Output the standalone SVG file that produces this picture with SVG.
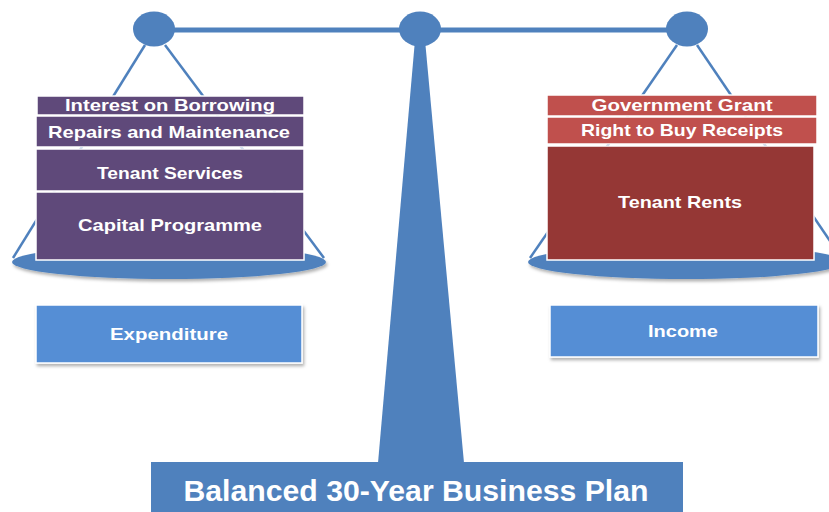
<svg xmlns="http://www.w3.org/2000/svg" width="829" height="512" viewBox="0 0 829 512">
<style>
.blue{fill:#4F81BD}
.str{stroke:#4F81BD;stroke-width:2.5;fill:none}
.pur{fill:#5F497A;stroke:#fff;stroke-width:1.5}
.red{fill:#C0504D;stroke:#fff;stroke-width:1.5}
.dred{fill:#953735;stroke:#fff;stroke-width:1.5}
.lbl{fill:#558ED5;stroke:#fff;stroke-width:1.5}
.t{font-family:"Liberation Sans",Arial,sans-serif;font-weight:bold;fill:#fff;text-anchor:middle}
</style>
<defs>
<filter id="sh" x="-10%" y="-30%" width="120%" height="180%">
<feDropShadow dx="1.5" dy="2.5" stdDeviation="1.5" flood-color="#000" flood-opacity="0.3"/>
</filter>
</defs>
<rect width="829" height="512" fill="#fff"/>
<g id="connectors">
<line class="str" x1="145" y1="45" x2="13" y2="258"/>
<line class="str" x1="165" y1="45" x2="324" y2="258"/>
<line class="str" x1="677" y1="45" x2="530" y2="258"/>
<line class="str" x1="697" y1="45" x2="845" y2="263"/>
</g>
<g id="scale">
<line x1="154" y1="30" x2="687" y2="30" stroke="#4F81BD" stroke-width="5"/>
<polygon class="blue" points="415,40 425,40 464,463 378,463"/>
<ellipse class="blue" cx="154" cy="29" rx="21" ry="17.5"/>
<ellipse class="blue" cx="420" cy="29" rx="21" ry="17.5"/>
<ellipse class="blue" cx="687" cy="29" rx="21" ry="17.5"/>
<ellipse class="blue" cx="169" cy="262" rx="157" ry="17" filter="url(#sh)"/>
<ellipse class="blue" cx="686" cy="262" rx="158" ry="17" filter="url(#sh)"/>
</g>
<g id="interest">
<rect class="pur" x="37" y="96" width="267" height="19"/>
<text class="t" x="170" y="111" font-size="17" textLength="210" lengthAdjust="spacingAndGlyphs">Interest on Borrowing</text>
</g>
<g id="repairs">
<rect class="pur" x="36" y="116" width="268" height="31"/>
<text class="t" x="169" y="137.5" font-size="17" textLength="242" lengthAdjust="spacingAndGlyphs">Repairs and Maintenance</text>
</g>
<g id="tenant-services">
<rect class="pur" x="36" y="149" width="268" height="42"/>
<text class="t" x="170" y="179" font-size="17" textLength="146" lengthAdjust="spacingAndGlyphs">Tenant Services</text>
</g>
<g id="capital">
<rect class="pur" x="36" y="192" width="268" height="68"/>
<text class="t" x="170" y="231" font-size="17" textLength="184" lengthAdjust="spacingAndGlyphs">Capital Programme</text>
</g>
<g id="grant">
<rect class="red" x="547" y="95" width="270" height="21"/>
<text class="t" x="682" y="111" font-size="17" textLength="181" lengthAdjust="spacingAndGlyphs">Government Grant</text>
</g>
<g id="rtb">
<rect class="red" x="547" y="117" width="270" height="27"/>
<text class="t" x="682" y="136" font-size="17" textLength="202" lengthAdjust="spacingAndGlyphs">Right to Buy Receipts</text>
</g>
<g id="rents">
<rect class="dred" x="547" y="146" width="267" height="114"/>
<text class="t" x="680" y="208" font-size="17" textLength="124" lengthAdjust="spacingAndGlyphs">Tenant Rents</text>
</g>
<g id="expenditure">
<rect class="lbl" x="36" y="305" width="266" height="58" filter="url(#sh)"/>
<text class="t" x="169" y="340" font-size="17" textLength="118" lengthAdjust="spacingAndGlyphs">Expenditure</text>
</g>
<g id="income">
<rect class="lbl" x="550" y="305" width="268" height="52" filter="url(#sh)"/>
<text class="t" x="683" y="337" font-size="17" textLength="70" lengthAdjust="spacingAndGlyphs">Income</text>
</g>
<g id="business-plan">
<rect class="blue" x="151" y="462" width="532" height="52"/>
<text class="t" x="416" y="501" font-size="30" textLength="465" lengthAdjust="spacingAndGlyphs">Balanced 30-Year Business Plan</text>
</g>
</svg>
